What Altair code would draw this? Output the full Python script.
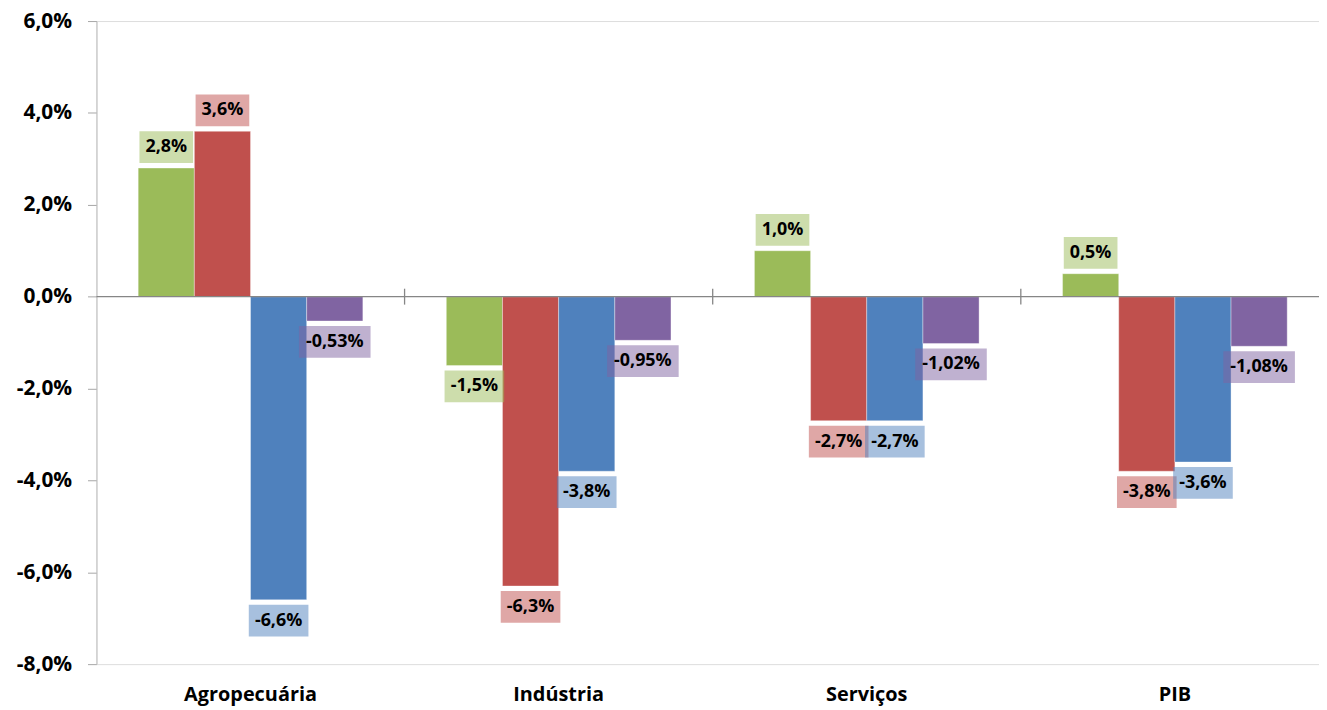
import altair as alt
import pandas as pd

categories = ["Agropecuária", "Indústria", "Serviços", "PIB"]
series = ["Série 1", "Série 2", "Série 3", "Série 4"]
green_values = [2.8, -1.5, 1.0, 0.5]
red_values = [3.6, -6.3, -2.7, -3.8]
blue_values = [-6.6, -3.8, -2.7, -3.6]
purple_values = [-0.53, -0.95, -1.02, -1.08]
label_decimals = [1, 1, 1, 2]
colors = ["#9BBB59", "#C0504D", "#4F81BD", "#8064A2"]
y_ticks = [-8, -6, -4, -2, 0, 2, 4, 6]

rows = []
for s, vals, dec in zip(series, [green_values, red_values, blue_values, purple_values], label_decimals):
    for c, v in zip(categories, vals):
        rows.append({"cat": c, "serie": s, "value": v,
                     "label": f"{v:.{dec}f}".replace(".", ",") + "%"})
df = pd.DataFrame(rows)
zero_df = pd.DataFrame({"v": [0]})
tick_df = pd.DataFrame({"cat": categories[1:]})

FONT = "Open Sans"
W, H = 1240, 647

x_scale = alt.Scale(domain=categories, paddingInner=0, paddingOuter=0)
x = alt.X("cat:N", sort=categories, scale=x_scale,
          axis=alt.Axis(title=None, domain=False, ticks=False, labelAngle=0, labelFont=FONT,
                        labelFontSize=20, labelFontWeight="bold", labelColor="#000000",
                        labelPadding=21))
xo = alt.XOffset("serie:N", sort=series,
                 scale=alt.Scale(domain=series, paddingInner=0, paddingOuter=0.743))
y = alt.Y("value:Q", scale=alt.Scale(domain=[-8, 6], nice=False, zero=False),
          axis=alt.Axis(title=None, values=y_ticks, grid=False,
                        labelExpr="replace(replace(format(datum.value, '.1f'), '.', ','), '\u2212', '-') + '%'",
                        domainColor="#BFBFBF", tickColor="#A6A6A6", tickSize=9,
                        labelFont=FONT, labelFontSize=21, labelFontWeight="bold",
                        labelColor="#000000", labelPadding=16))
color = alt.Color("serie:N", sort=series, scale=alt.Scale(domain=series, range=colors), legend=None)

base = alt.Chart(df)

bars = base.mark_bar(stroke="white", strokeWidth=0.6, strokeOpacity=0.6).encode(
    x=x, xOffset=xo, y=y, color=color)

box_w = alt.ExprRef("length(datum.label) <= 4 ? 54 : (length(datum.label) == 5 ? 60 : 72)")

pos_boxes = base.transform_filter("datum.value >= 0").mark_rect(
    opacity=0.5, width=box_w, yOffset=-37, y2Offset=-5).encode(
    x=x, xOffset=xo, y=y, y2=alt.Y2("value:Q"), color=color)
neg_boxes = base.transform_filter("datum.value < 0").mark_rect(
    opacity=0.5, width=box_w, yOffset=5, y2Offset=37).encode(
    x=x, xOffset=xo, y=y, y2=alt.Y2("value:Q"), color=color)

pos_text = base.transform_filter("datum.value >= 0").mark_text(
    font=FONT, fontSize=18, fontWeight="bold", color="#000000", dy=-21,
    baseline="middle", align="center").encode(x=x, xOffset=xo, y=y, text="label:N")
neg_text = base.transform_filter("datum.value < 0").mark_text(
    font=FONT, fontSize=18, fontWeight="bold", color="#000000", dy=21,
    baseline="middle", align="center").encode(x=x, xOffset=xo, y=y, text="label:N")

zero_line = alt.Chart(zero_df).mark_rule(color="#868686", strokeWidth=1.3).encode(
    y=alt.Y("v:Q"), x=alt.value(0), x2=alt.value(W))

cat_ticks = alt.Chart(tick_df).mark_rule(color="#868686", strokeWidth=1.3,
                                         yOffset=-8, y2Offset=8).encode(
    x=alt.X("cat:N", sort=categories, bandPosition=0),
    y=alt.datum(0), y2=alt.datum(0))

chart = alt.layer(bars, pos_boxes, neg_boxes, zero_line, cat_ticks, pos_text, neg_text).properties(
    width=W, height=H,
    autosize=alt.AutoSizeParams(type="none"),
    padding={"left": 89, "top": 11, "right": -10, "bottom": 42},
).configure_view(stroke=None).configure(background="white")

chart.save("out.html", embed_options={"renderer": "svg", "actions": False})
